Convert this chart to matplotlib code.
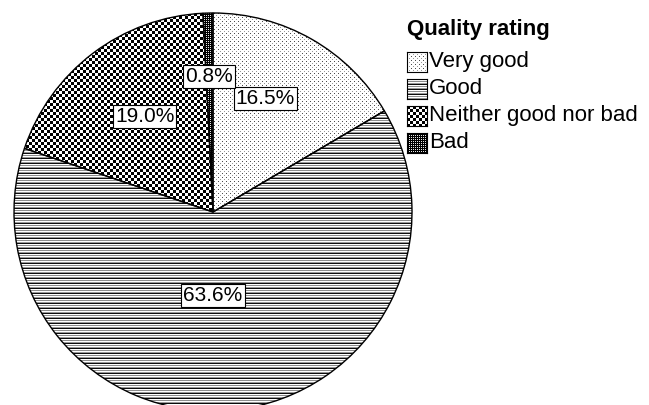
import matplotlib
matplotlib.use("Agg")
import matplotlib.pyplot as plt
import numpy as np

plt.rcParams['font.family'] = ['Liberation Sans', 'DejaVu Sans']

categories = ["Very good", "Good", "Neither good nor bad", "Bad"]
values = [16.5, 63.6, 19.0, 0.8]
pct_labels = ["16.5%", "63.6%", "19.0%", "0.8%"]
legend_title = "Quality rating"

pattern_names = ['dots', 'hlines', 'checker', 'dark']
label_dist = [0.63, 0.42, 0.59, 0.68]
label_angle_shift = [5, -6, -1.5, 0.3]


def texture(name, n):
    i, j = np.mgrid[0:n, 0:n]
    img = np.ones((n, n))
    if name == 'dots':
        img[(i % 4 == 0) & (j % 4 == 0)] = 0.3
        img[(i % 4 == 2) & (j % 4 == 2)] = 0.6
    elif name == 'hlines':
        rows = np.array([0.05, 1.0, 0.55, 1.0, 0.6])
        img = rows[i % 5]
    elif name == 'checker':
        img = (((i // 3) + (j // 3)) % 2).astype(float)
    elif name == 'dark':
        img = np.zeros((n, n))
        img[(i % 2 == 0) & (j % 2 == 0)] = 0.9
    return img


W, H = 649, 405
fig = plt.figure(figsize=(W / 100, H / 100), dpi=100)
cx, cy, r = 213, H - 212, 199
ax = fig.add_axes([(cx - r) / W, (cy - r) / H, 2 * r / W, 2 * r / H])

wedges, _ = ax.pie(values, startangle=90, counterclock=False, radius=1,
                   colors=['none'] * 4,
                   wedgeprops=dict(edgecolor='black', linewidth=1.0, zorder=3))

npx = 2 * r
for w, pname in zip(wedges, pattern_names):
    im = ax.imshow(texture(pname, npx), cmap='gray', vmin=0, vmax=1,
                   extent=[-1, 1, -1, 1], interpolation='nearest', zorder=1)
    im.set_clip_path(w)

for w, lab, d, s in zip(wedges, pct_labels, label_dist, label_angle_shift):
    ang = np.deg2rad((w.theta1 + w.theta2) / 2 + s)
    ax.text(d * np.cos(ang), d * np.sin(ang), lab, ha='center', va='center',
            fontsize=15, zorder=5,
            bbox=dict(boxstyle='square,pad=0.1', facecolor='white',
                      edgecolor='black', linewidth=0.8))

ax.set_xlim(-1, 1)
ax.set_ylim(-1, 1)
ax.set_aspect('equal')
ax.axis('off')

# Legend drawn by hand so the handles show the same fill patterns
fig.text(407 / W, 1 - 30 / H, legend_title, fontsize=16, fontweight='bold',
         ha='left', va='center')
hs = 20
for k, (cat, pname) in enumerate(zip(categories, pattern_names)):
    yc = 62 + 27 * k
    hax = fig.add_axes([407 / W, 1 - (yc + hs / 2) / H, hs / W, hs / H])
    hax.imshow(texture(pname, hs), cmap='gray', vmin=0, vmax=1,
               interpolation='nearest', extent=[0, 1, 0, 1])
    hax.set_xticks([])
    hax.set_yticks([])
    for sp in hax.spines.values():
        sp.set_linewidth(0.8)
    fig.text(429 / W, 1 - yc / H, cat, fontsize=16, ha='left', va='center')

fig.savefig("out.png", dpi=100)
